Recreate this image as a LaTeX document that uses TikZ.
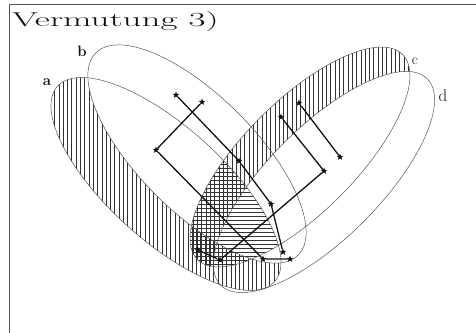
\documentclass[tikz,border=0pt]{standalone}
\usepackage{fontspec}
\usepackage{graphicx}
\usetikzlibrary{shapes.geometric}
\definecolor{vmInk}{HTML}{111111}
\definecolor{vmRim}{HTML}{555555}
\definecolor{vmHatch}{HTML}{333333}
\newcommand\vmSetA{(166,148) ellipse [x radius=146, y radius=57, rotate=-42]}
\newcommand\vmSetB{(197,178) ellipse [x radius=143, y radius=58, rotate=-45]}
\newcommand\vmSetC{(300,175) ellipse [x radius=145, y radius=56, rotate=45]}
\newcommand\vmSetD{(324,150) ellipse [x radius=146, y radius=56, rotate=45]}
\tikzset{
  vm frame/.style={draw=vmRim, line width=0.9pt},
  vm rim/.style={draw=vmRim, line width=0.5pt},
  vm hatch/.style={draw=vmHatch, line width=0.4pt},
  vm star/.style={star, star points=5, star point ratio=2.3, fill=vmInk, minimum size=7pt, inner sep=0pt},
  vm path/.style={draw=vmInk, line width=1.3pt},
  vm label/.style={text=vmInk, inner sep=0pt},
}

\begin{document}
\begin{tikzpicture}[x=1pt,y=1pt]
  \useasboundingbox (0,0) rectangle (476,332);
  \draw[vm frame] (9,-1) |- (477,328);
  \node[vm label, anchor=base west] (title) at (12,305)
    {\fontsize{20}{24}\selectfont\scalebox{1.85}[1]{Vermutung 3)}};

  % a without b
  \begin{scope}[even odd rule]
    \clip \vmSetA;
    \clip (0,0) rectangle (476,332) \vmSetB;
    \foreach \x in {20,24.3,...,320}
      \draw[vm hatch] (\x,0) -- (\x,332);
  \end{scope}
  % c without d
  \begin{scope}[even odd rule]
    \clip \vmSetC;
    \clip (0,0) rectangle (476,332) \vmSetD;
    \foreach \x in {150,154.3,...,420}
      \draw[vm hatch] (\x,0) -- (\x,332);
  \end{scope}
  % a and c
  \begin{scope}
    \clip \vmSetA;
    \clip \vmSetC;
    \foreach \y in {20,24,...,220}
      \draw[vm hatch] (150,\y) -- (320,\y);
  \end{scope}

  \draw[vm rim] \vmSetA;
  \draw[vm rim] \vmSetB;
  \draw[vm rim] \vmSetC;
  \draw[vm rim] \vmSetD;

  \node[vm label, font=\fontsize{15}{17}\selectfont\bfseries] (la) at (47,250) {a};
  \node[vm label, font=\fontsize{15}{17}\selectfont\bfseries] (lb) at (82,281) {b};
  \node[vm label, font=\fontsize{15}{17}\selectfont] (lc) at (415,271) {c};
  \node[vm label, font=\fontsize{17}{19}\selectfont] (ld) at (443,236) {d};

  \foreach \n/\x/\y in {p1/176/237, p2/202/230, p3/156/182, p4/239/171,
      p5/281/215, p6/299/229, p7/340/175, p8/324/161, p9/271/128,
      p10/283/80, p11/263/73, p12/290/73, p13/220/72, p14/198/82}
    \node[vm star] (\n) at (\x,\y) {};

  \draw[vm path] (p1) -- (p4) -- (p9) -- (p10);
  \draw[vm path] (p2) -- (p3) -- (p11) -- (p12);
  \draw[vm path] (p6) -- (p7);
  \draw[vm path] (p5) -- (p8) -- (p13) -- (p14);
\end{tikzpicture}
\end{document}
